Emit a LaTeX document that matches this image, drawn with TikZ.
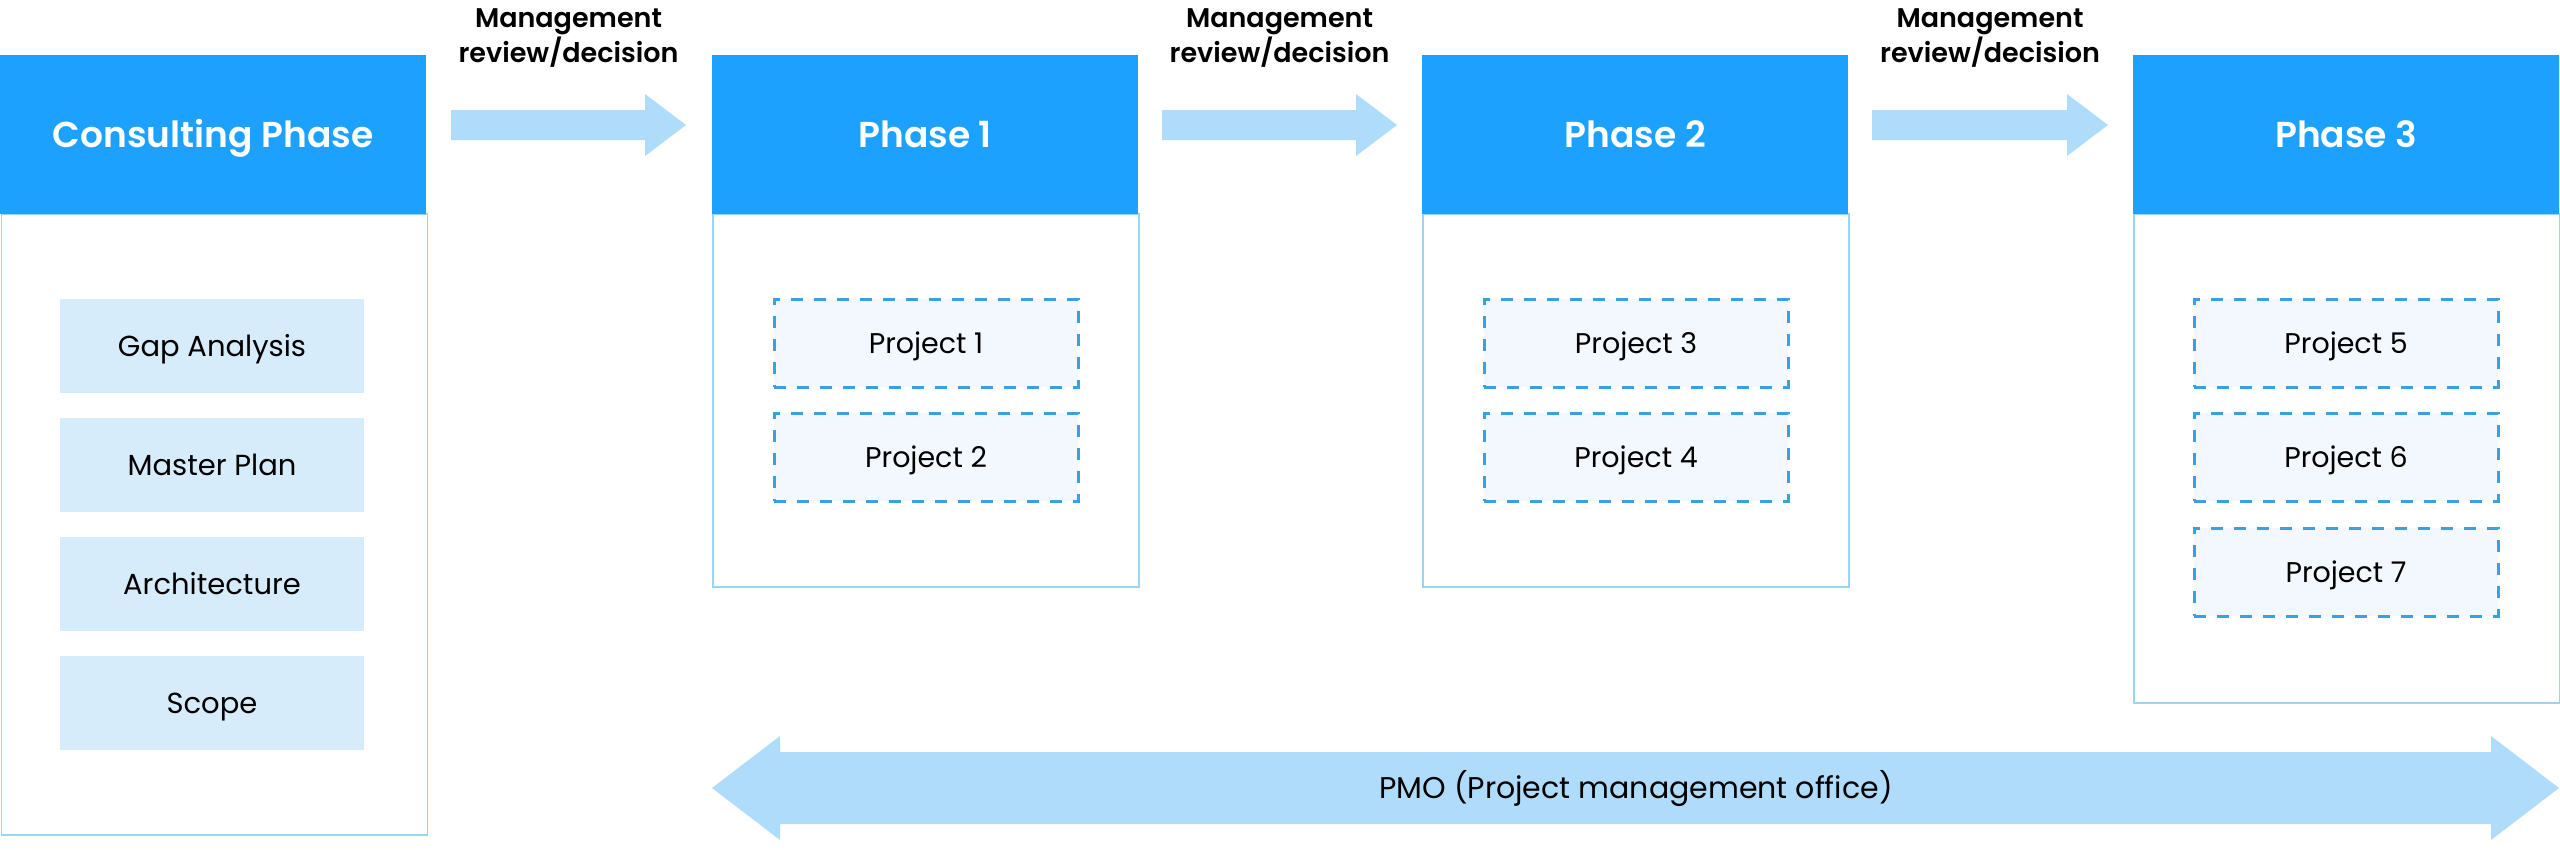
\documentclass[tikz,border=0pt]{standalone}
\usepackage{fontspec}
\setmainfont{Poppins}[BoldFont={Poppins SemiBold}]
\usetikzlibrary{positioning}
\definecolor{hdr}{HTML}{1DA1FF}
\definecolor{arr}{HTML}{B0DCFC}
\definecolor{inner}{HTML}{D6ECFB}
\definecolor{projfill}{HTML}{F3F8FE}
\definecolor{projline}{HTML}{3AA0E2}
\definecolor{bodyline}{HTML}{9CD3F3}
\newcommand{\blockarrowR}[5]{% x1 x2 ymid shafthalf headhalf ; headlen 41
  \fill[arr] (#1,#3-#4) -- (#2-41,#3-#4) -- (#2-41,#3-#5) -- (#2,#3) -- (#2-41,#3+#5) -- (#2-41,#3+#4) -- (#1,#3+#4) -- cycle;}
\begin{document}
\begin{tikzpicture}[x=1pt,y=-1pt,
  hdrbox/.style={fill=hdr, draw=none, minimum width=426pt, minimum height=159pt, inner sep=0pt,
     anchor=north west, text=white, font=\fontsize{36}{40}\selectfont\bfseries, text height=25pt, text depth=0pt},
  bodybox/.style={fill=white, draw=bodyline, line width=1.5pt, minimum width=426pt, inner sep=0pt, anchor=north west},
  itembox/.style={fill=inner, draw=none, minimum width=304pt, minimum height=94pt, inner sep=0pt,
     font=\fontsize{29}{34}\selectfont, text height=20pt, text depth=0pt},
  projbox/.style={fill=projfill, draw=projline, line width=3pt, dash pattern=on 12pt off 11pt,
     minimum width=304pt, minimum height=88pt, inner sep=0pt,
     font=\fontsize{28.5}{34}\selectfont, text height=20pt, text depth=0pt},
  mlab/.style={font=\fontsize{27}{32}\selectfont\bfseries, anchor=base, inner sep=0pt},
  pmolab/.style={font=\fontsize{30}{36}\selectfont, text height=21pt, text depth=0pt, inner sep=0pt}
]
\useasboundingbox (0,0) rectangle (2560,849);
\fill[white] (0,0) rectangle (2560,849);

% bodies
\node[bodybox, minimum height=621pt] (b0) at (0.75,213) {};
\node[bodybox, minimum height=373pt] (b1) at (712,213) {};
\node[bodybox, minimum height=373pt] (b2) at (1422,213) {};
\node[bodybox, minimum height=489pt] (b3) at (2133,213) {};

% headers
\node[hdrbox] (h0) at (0,55) {Consulting Phase};
\node[hdrbox] (h1) at (712,55) {Phase 1};
\node[hdrbox] (h2) at (1422,55) {Phase 2};
\node[hdrbox] (h3) at (2133,55) {Phase 3};

% consulting items
\node[itembox] (gap)  at (212,346) {Gap Analysis};
\node[itembox] (mp)   at (212,465) {Master Plan};
\node[itembox] (arch) at (212,584) {Architecture};
\node[itembox] (sc)   at (212,703) {Scope};

% projects
\node[projbox] (p1) at (926,343) {Project 1};
\node[projbox] (p2) at (926,457) {Project 2};
\node[projbox] (p3) at (1636,343) {Project 3};
\node[projbox] (p4) at (1636,457) {Project 4};
\node[projbox] (p5) at (2346,343) {Project 5};
\node[projbox] (p6) at (2346,457) {Project 6};
\node[projbox] (p7) at (2346,572) {Project 7};

% review arrows
\blockarrowR{451}{686}{125}{15}{31}
\blockarrowR{1162}{1397}{125}{15}{31}
\blockarrowR{1872}{2108}{125}{15}{31}

\node[mlab] (m1a) at (568.5,27) {Management};
\node[mlab] (m1b) at (568.5,62) {review/decision};
\node[mlab] (m2a) at (1279.5,27) {Management};
\node[mlab] (m2b) at (1279.5,62) {review/decision};
\node[mlab] (m3a) at (1990,27) {Management};
\node[mlab] (m3b) at (1990,62) {review/decision};

% PMO double arrow
\fill[arr] (712,788) -- (780,736) -- (780,752) -- (2491,752) -- (2491,736) -- (2559,788)
  -- (2491,840) -- (2491,824) -- (780,824) -- (780,840) -- cycle;
\node[pmolab] (pmo) at (1636,788) {PMO (Project management office)};
\end{tikzpicture}
\end{document}
